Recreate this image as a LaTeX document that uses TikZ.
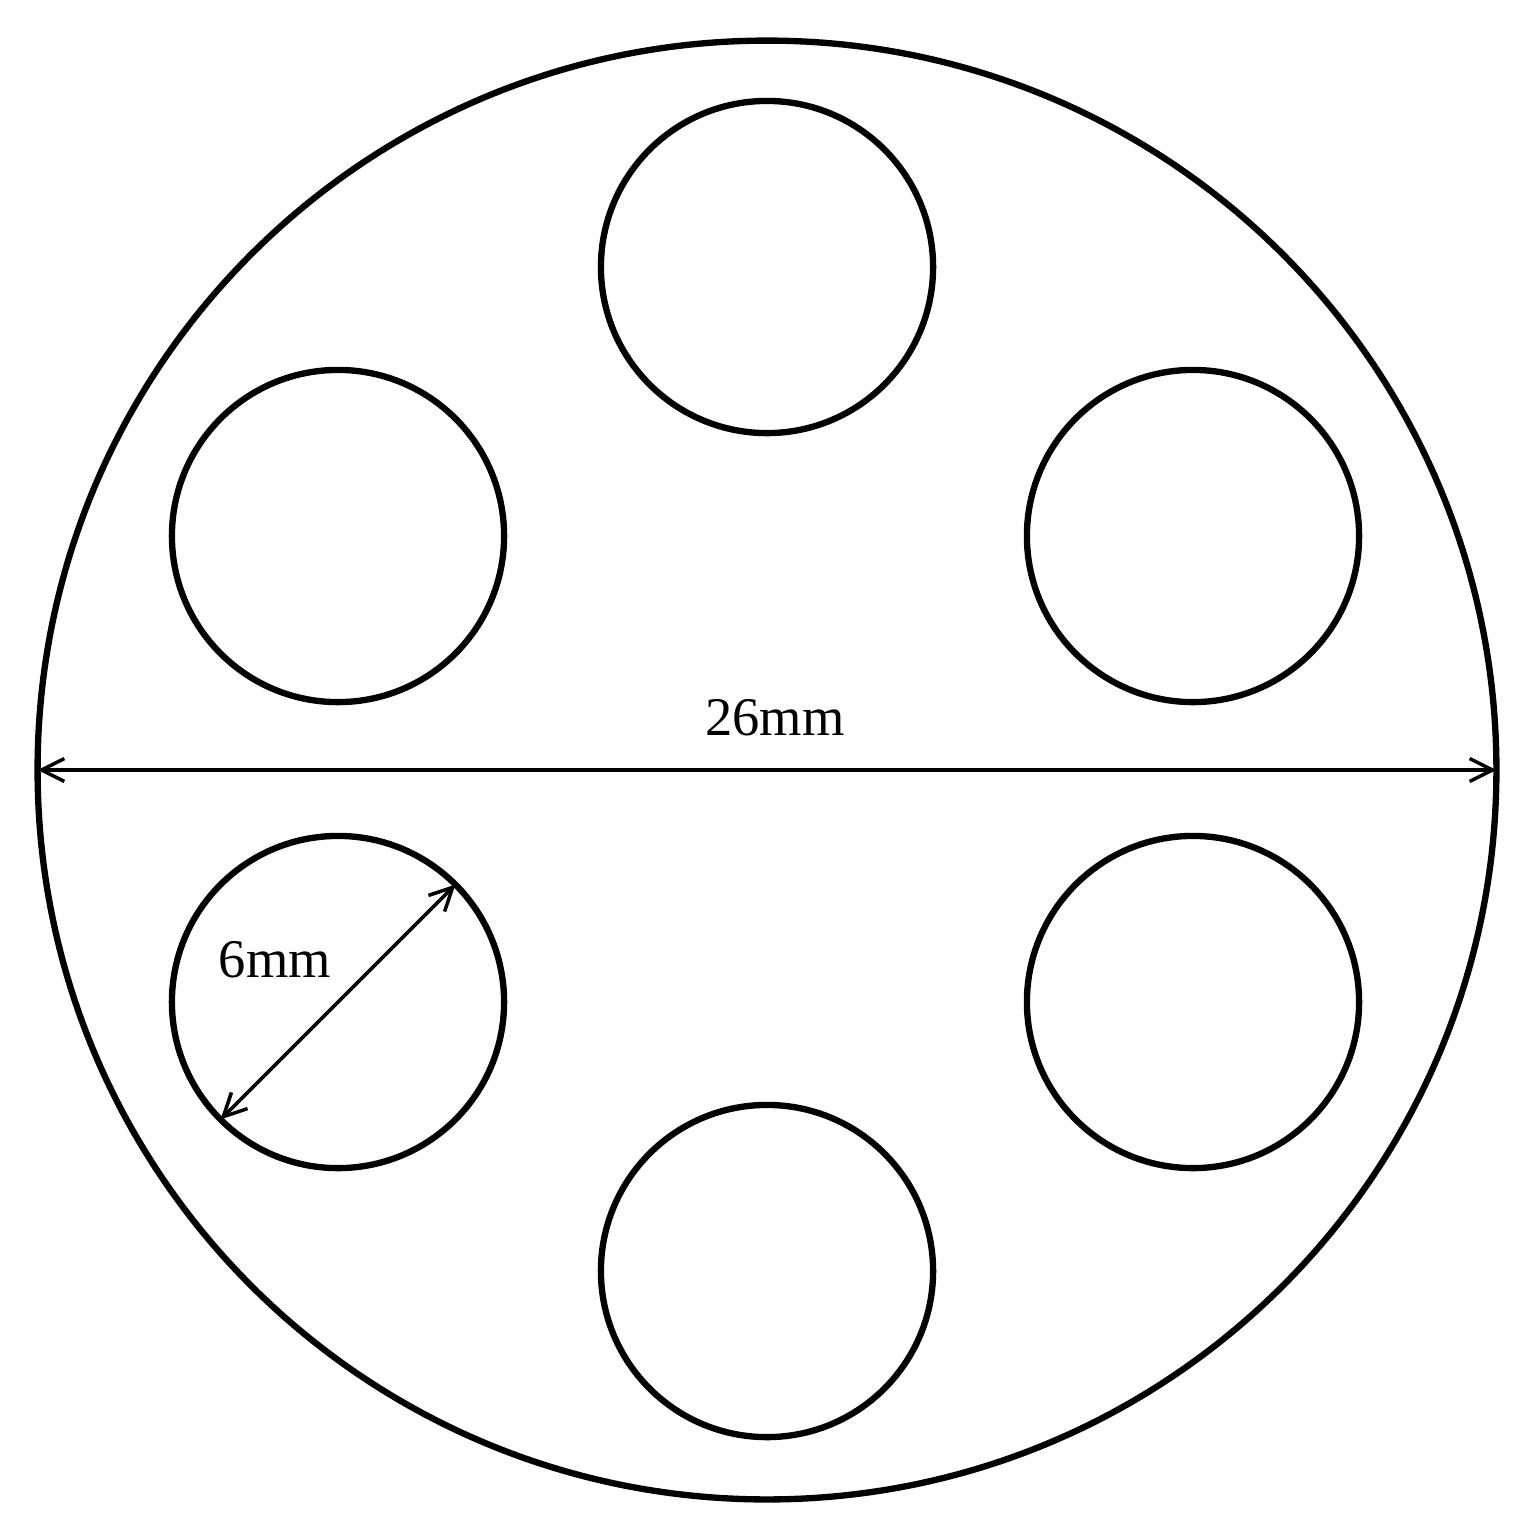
\documentclass[tikz,border=0pt]{standalone}
\usepackage{fontspec}
\setmainfont{Liberation Serif}
\usetikzlibrary{arrows.meta}
\begin{document}
\begin{tikzpicture}[x=0.01cm,y=-0.01cm,
  hole/.style={circle,draw,line width=1.8pt,minimum size=3.32cm,inner sep=0pt,outer sep=0pt},
  dim/.style={line width=1pt,{Straight Barb[length=6.5pt,width=6.5pt]}-{Straight Barb[length=6.5pt,width=6.5pt]}},
  lbl/.style={font=\fontsize{15.5pt}{18pt}\selectfont,inner sep=0pt}]
\useasboundingbox (0,0) rectangle (1536,1532);
\node[circle,draw,line width=1.8pt,minimum size=14.58cm,inner sep=0pt,outer sep=0pt] (outer) at (767,770) {};
\node[hole] (h1) at (767,267) {};
\node[hole] (h2) at (338,536) {};
\node[hole] (h3) at (1193,536) {};
\node[hole] (h4) at (338,1002) {};
\node[hole] (h5) at (1193,1002) {};
\node[hole] (h6) at (767,1271) {};
\coordinate (aL) at (outer.west);
\coordinate (aR) at (outer.east);
\draw[dim] (aL) -- (aR);
\node[lbl] (t26) at (775,718) {26mm};
\coordinate (dA) at (h4.225);
\coordinate (dB) at (h4.45);
\draw[dim] (dA) -- (dB);
\node[lbl] (t6) at (275,960) {6mm};
\end{tikzpicture}
\end{document}
